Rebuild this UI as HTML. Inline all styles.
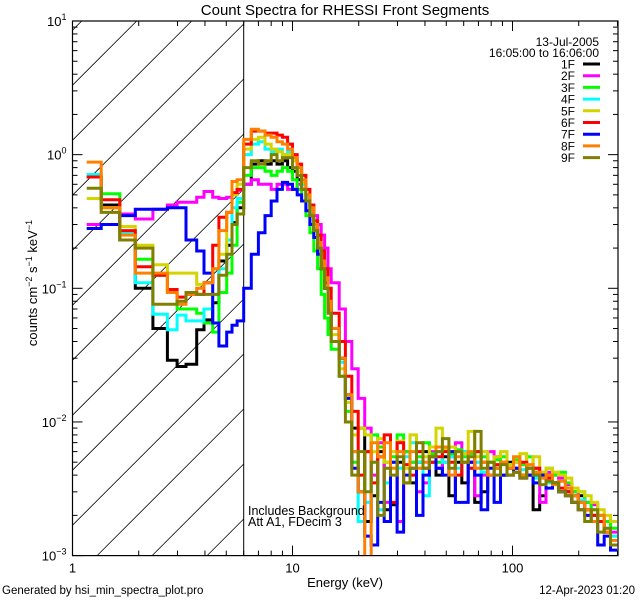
<!DOCTYPE html>
<html><head><meta charset="utf-8">
<style>
html,body{margin:0;padding:0;background:#fff;width:640px;height:600px;overflow:hidden;}
svg{display:block;font-family:"Liberation Sans",sans-serif;overflow:hidden;}
</style></head>
<body>
<svg id="chart" width="640" height="600" viewBox="0 0 640 600" xmlns="http://www.w3.org/2000/svg">
<rect x="0" y="0" width="640" height="600" fill="#fff"/>
<text x="345" y="15" font-size="15" text-anchor="middle">Count Spectra for RHESSI Front Segments</text>
<g id="hatch"></g>
<g id="series"></g>
<g id="axes"></g>
<text x="345" y="587" font-size="13" text-anchor="middle">Energy (keV)</text>
<text transform="translate(37,283) rotate(-90)" font-size="13" text-anchor="middle">counts cm<tspan font-size="9" dy="-5">−2</tspan><tspan dy="5"> s</tspan><tspan font-size="9" dy="-5">−1</tspan><tspan dy="5"> keV</tspan><tspan font-size="9" dy="-5">−1</tspan></text>
<text x="248" y="515" font-size="12.5">Includes Background</text>
<text x="248" y="526" font-size="12.5">Att A1, FDecim  3</text>
<text x="2" y="594" font-size="11.5">Generated by hsi_min_spectra_plot.pro</text>
<text x="635" y="594" font-size="11.5" text-anchor="end">12-Apr-2023 01:20</text>
<text x="599" y="46" font-size="12" text-anchor="end">13-Jul-2005</text>
<text x="599" y="57" font-size="12" text-anchor="end">16:05:00 to 16:06:00</text>
<g id="legend"></g>
</svg>
<script>
const edgesLow = [1.16,1.35,1.64,1.93,2.32,2.7,2.99,3.28,3.67,3.96,4.34,4.63,5.02,5.31,5.6,6.0];
const edgesMid = [6.5,7.0,7.5,8.0,8.5,9.0,9.5,10.0,10.5,11.0,11.5,12.0,12.5,13.0,13.5,14.0,14.5,15.0];
const edgesHigh = [16.3,17.4,18.6,19.9,21.3,22.8,24.4,26.1,27.9,29.9,32,34.2,36.6,39.2,41.9,44.9,48,51.4,55,58.8,62.9,67.3,72,77.1,82.5,88.2,94.4,101,108,116,124,133,142,152,162,174,186,199,213,228,244,261,279,299,309];
const seriesNames = ["1F","2F","3F","4F","5F","6F","7F","8F","9F"];
const seriesColors = ["#000000","#ff00ff","#00ff00","#00ffff","#d4d400","#ff0000","#0000ff","#ff8000","#808000"];
const yTickLabels = ["1","0","−1","−2","−3"];
const xTickLabels = ["1","10","100"];

const s1Low=[0.68,0.42,0.23,0.10,0.05,0.029,0.026,0.027,0.049,0.058,0.078,0.16,0.21,0.31,0.40];
const s1Mid=[0.6,0.85,0.9,0.85,0.9,0.85,0.9,0.8,0.75,0.65,0.55,0.45,0.35,0.27,0.2,0.15,0.11,0.08];
const s1High=[0.05,0.03,0.016,0.009,0.009,0.0018,0.0028,0.006,0.0022,0.0024,0.005,0.006,0.0035,0.005,0.006,0.005,0.004,0.0055,0.0028,0.005,0.0035,0.005,0.0025,0.003,0.005,0.0045,0.004,0.005,0.0045,0.004,0.0045,0.0022,0.0028,0.004,0.0035,0.003,0.003,0.0025,0.0028,0.0022,0.002,0.0018,0.0015,0.0012];
const s2Low=[0.30,0.30,0.36,0.33,0.39,0.42,0.44,0.44,0.48,0.53,0.48,0.47,0.48,0.5,0.54];
const s2Mid=[0.6,0.65,0.6,0.6,0.55,0.6,0.6,0.55,0.55,0.6,0.55,0.5,0.42,0.35,0.3,0.25,0.2,0.14];
const s2High=[0.11,0.07,0.04,0.025,0.015,0.009,0.004,0.007,0.0025,0.005,0.0018,0.006,0.005,0.003,0.0035,0.006,0.0045,0.005,0.0055,0.007,0.006,0.005,0.0028,0.004,0.006,0.0055,0.004,0.0045,0.005,0.0048,0.004,0.0045,0.0025,0.0042,0.004,0.0038,0.0034,0.003,0.0026,0.0025,0.0024,0.002,0.0018,0.0015];
const s3Low=[0.68,0.51,0.26,0.165,0.125,0.093,0.07,0.07,0.065,0.055,0.047,0.093,0.13,0.21,0.44];
const s3Mid=[0.7,0.8,0.8,0.75,0.7,0.75,0.8,0.75,0.65,0.55,0.45,0.35,0.26,0.19,0.14,0.09,0.06,0.045];
const s3High=[0.035,0.022,0.012,0.005,0.003,0.006,0.008,0.0065,0.005,0.0055,0.008,0.006,0.005,0.0055,0.007,0.0058,0.005,0.0065,0.0058,0.0062,0.0055,0.0058,0.006,0.0055,0.005,0.0052,0.0055,0.0045,0.0052,0.0048,0.0055,0.0042,0.004,0.0045,0.004,0.0042,0.0035,0.003,0.003,0.0025,0.0022,0.002,0.0018,0.0016];
const s4Low=[0.71,0.40,0.26,0.11,0.064,0.049,0.063,0.057,0.057,0.07,0.09,0.14,0.23,0.40,0.47];
const s4Mid=[1.0,1.2,1.25,1.1,1.05,1.1,1.0,1.05,0.9,0.75,0.6,0.48,0.36,0.27,0.2,0.15,0.1,0.07];
const s4High=[0.05,0.028,0.014,0.006,0.0018,0.0025,0.005,0.0022,0.0035,0.005,0.0045,0.0055,0.007,0.005,0.0028,0.005,0.006,0.005,0.0055,0.0045,0.006,0.0045,0.005,0.0042,0.005,0.0045,0.004,0.0048,0.0042,0.0044,0.004,0.0038,0.0042,0.0035,0.0034,0.003,0.0032,0.0028,0.0026,0.0022,0.002,0.0018,0.0016,0.0014];
const s5Low=[0.47,0.40,0.29,0.21,0.15,0.13,0.13,0.13,0.107,0.11,0.14,0.18,0.37,0.5,0.6];
const s5Mid=[1.1,1.3,1.35,1.2,1.1,1.05,1.0,1.0,0.9,0.75,0.62,0.5,0.38,0.28,0.2,0.14,0.1,0.07];
const s5High=[0.045,0.025,0.014,0.008,0.009,0.008,0.006,0.0075,0.005,0.006,0.0072,0.0045,0.008,0.006,0.0055,0.0065,0.009,0.0062,0.0065,0.006,0.0058,0.0085,0.0055,0.006,0.005,0.0055,0.006,0.0048,0.005,0.0058,0.0045,0.0055,0.0042,0.0045,0.0042,0.004,0.0038,0.0032,0.003,0.0028,0.0025,0.0022,0.002,0.0018];
const s6Low=[0.68,0.46,0.27,0.145,0.125,0.098,0.086,0.09,0.09,0.11,0.21,0.34,0.37,0.52,0.55];
const s6Mid=[1.2,1.5,1.5,1.45,1.45,1.4,1.35,1.2,1.0,0.85,0.7,0.55,0.42,0.32,0.25,0.19,0.14,0.1];
const s6High=[0.065,0.04,0.022,0.012,0.004,0.006,0.0035,0.0055,0.008,0.0025,0.007,0.0048,0.004,0.006,0.0045,0.005,0.0055,0.006,0.005,0.004,0.005,0.0045,0.006,0.005,0.004,0.0048,0.005,0.0045,0.0042,0.005,0.004,0.0045,0.004,0.0038,0.0035,0.0032,0.003,0.0028,0.0025,0.0022,0.002,0.0018,0.0015,0.0012];
const s7Low=[0.28,0.30,0.35,0.39,0.39,0.40,0.40,0.23,0.19,0.13,0.055,0.037,0.047,0.053,0.057];
const s7Mid=[0.1,0.18,0.26,0.35,0.45,0.55,0.62,0.6,0.55,0.5,0.45,0.38,0.3,0.24,0.18,0.14,0.1,0.07];
const s7High=[0.05,0.03,0.015,0.0045,0.003,0.0014,0.0012,0.0025,0.0018,0.005,0.0015,0.004,0.0045,0.002,0.004,0.0055,0.0045,0.004,0.006,0.0025,0.0025,0.005,0.004,0.0022,0.0045,0.0025,0.004,0.004,0.0045,0.0038,0.004,0.0035,0.004,0.0032,0.0035,0.003,0.0028,0.0025,0.0022,0.002,0.0018,0.0012,0.0014,0.0011];
const s8Low=[0.88,0.40,0.25,0.13,0.13,0.093,0.076,0.09,0.1,0.11,0.14,0.27,0.37,0.63,0.65];
const s8Mid=[1.3,1.55,1.5,1.4,1.35,1.25,1.2,1.1,0.95,0.8,0.65,0.5,0.4,0.3,0.22,0.16,0.12,0.08];
const s8High=[0.05,0.03,0.016,0.006,0.003,0.0008,0.007,0.0055,0.007,0.0045,0.006,0.0035,0.006,0.0045,0.005,0.0055,0.0065,0.0065,0.004,0.0055,0.005,0.006,0.0045,0.005,0.004,0.0045,0.005,0.0045,0.0055,0.004,0.0048,0.0042,0.0038,0.004,0.0034,0.0036,0.0032,0.0028,0.0025,0.0022,0.0018,0.002,0.0015,0.0013];
const s9Low=[0.56,0.37,0.23,0.20,0.076,0.076,0.08,0.093,0.09,0.09,0.09,0.125,0.18,0.30,0.36];
const s9Mid=[0.8,0.9,0.85,0.9,1.0,0.9,0.95,0.95,0.8,0.7,0.55,0.45,0.35,0.27,0.2,0.14,0.1,0.065];
const s9High=[0.04,0.022,0.01,0.004,0.006,0.003,0.005,0.002,0.0045,0.004,0.0055,0.0035,0.0045,0.007,0.0045,0.0055,0.006,0.0075,0.0045,0.006,0.005,0.0055,0.0085,0.0045,0.005,0.004,0.0048,0.004,0.0042,0.0038,0.0045,0.004,0.0034,0.0036,0.0035,0.003,0.0028,0.0025,0.0022,0.0018,0.0022,0.0015,0.0016,0.0012];

const NS="http://www.w3.org/2000/svg";
const L=72.5,R=618,T=21,B=555.6;
const xmin=1,xmax=Math.pow(10,(R-L)/220);
const ymin=1e-3,ymax=10;
function xs(e){return L+(Math.log10(e)-Math.log10(xmin))/(Math.log10(xmax)-Math.log10(xmin))*(R-L);}
function ys(v){return B-(Math.log10(v)-Math.log10(ymin))/(Math.log10(ymax)-Math.log10(ymin))*(B-T);}
function mk(tag,attrs,parent){const el=document.createElementNS(NS,tag);for(const k in attrs)el.setAttribute(k,attrs[k]);parent.appendChild(el);return el;}

const svg=document.getElementById('chart');
const defs=mk('defs',{},svg);
const cp=mk('clipPath',{id:'plotclip'},defs);
mk('rect',{x:L,y:T,width:R-L,height:B-T},cp);

const hatch=document.getElementById('hatch');
const xv=xs(6);
// hatch lines y = c - x, clipped analytically to [L,xv] x [T,B]
for(let c=157.7-55*3;c<B+xv;c+=55){
  let xa=Math.max(L,c-B), xb=Math.min(xv,c-T);
  if(xb<=xa) continue;
  const ln=mk('line',{x1:xa,y1:c-xa,x2:xb,y2:c-xb,stroke:'#000','stroke-width':0.8},hatch);
  
  
}
const vl=mk('line',{x1:xv,y1:T,x2:xv,y2:B,stroke:'#000','stroke-width':1},hatch);



const edges=edgesLow.concat(edgesMid,edgesHigh);
const allSeries=[
 s1Low.concat(s1Mid,s1High),s2Low.concat(s2Mid,s2High),s3Low.concat(s3Mid,s3High),
 s4Low.concat(s4Mid,s4High),s5Low.concat(s5Mid,s5High),s6Low.concat(s6Mid,s6High),
 s7Low.concat(s7Mid,s7High),s8Low.concat(s8Mid,s8High),s9Low.concat(s9Mid,s9High)];
const sg=document.getElementById('series');
sg.setAttribute('clip-path','url(#plotclip)');
allSeries.forEach((vals,si)=>{
  const n=Math.min(vals.length,edges.length-1);
  let d='';
  for(let i=0;i<n;i++){
    const x0=xs(edges[i]),x1=Math.min(xs(edges[i+1]),R),y=Math.min(ys(vals[i]),B+1);
    d+=(i===0?'M':'L')+x0.toFixed(1)+','+y.toFixed(1)+'L'+x1.toFixed(1)+','+y.toFixed(1);
  }
  const p=mk('path',{d:d,fill:'none',stroke:seriesColors[si],'stroke-width':3,'stroke-linejoin':'miter'},sg);
  
  
});

const ax=document.getElementById('axes');
const fr=mk('rect',{x:L,y:T,width:R-L,height:B-T,fill:'none',stroke:'#000','stroke-width':1.2},ax);


for(let p=-3;p<=1;p++){
  const y=ys(Math.pow(10,p));
  mk('line',{x1:L,y1:y,x2:L+10,y2:y,stroke:'#000'},ax);
  mk('line',{x1:R,y1:y,x2:R-10,y2:y,stroke:'#000'},ax);
  const t=mk('text',{x:L-6,y:y+5,'font-size':13,'text-anchor':'end'},ax);
  
  
  t.innerHTML='10<tspan font-size="9" dy="-6">'+yTickLabels[1-p]+'</tspan>';
  if(p<1){for(let m=2;m<=9;m++){const ym=ys(m*Math.pow(10,p));
    mk('line',{x1:L,y1:ym,x2:L+5,y2:ym,stroke:'#000'},ax);
    mk('line',{x1:R,y1:ym,x2:R-5,y2:ym,stroke:'#000'},ax);}}
}
for(let p=0;p<=2;p++){
  const x=xs(Math.pow(10,p));
  mk('line',{x1:x,y1:B,x2:x,y2:B-10,stroke:'#000'},ax);
  mk('line',{x1:x,y1:T,x2:x,y2:T+10,stroke:'#000'},ax);
  const t=mk('text',{x:x,y:B+17,'font-size':13,'text-anchor':'middle'},ax);
  
  
  t.textContent=xTickLabels[p];
  for(let m=2;m<=9;m++){const e=m*Math.pow(10,p);if(e>xmax)break;const xm=xs(e);
    mk('line',{x1:xm,y1:B,x2:xm,y2:B-5,stroke:'#000'},ax);
    mk('line',{x1:xm,y1:T,x2:xm,y2:T+5,stroke:'#000'},ax);}
}
const lg=document.getElementById('legend');
seriesNames.forEach((nm,i)=>{
  const y=64+i*11.7;
  const t=mk('text',{x:575,y:y+4.5,'font-size':12,'text-anchor':'end'},lg);
  
  
  t.textContent=nm;
  const l=mk('line',{x1:583,y1:y,x2:600,y2:y,stroke:seriesColors[i],'stroke-width':3},lg);
  
  
});
</script>
</body></html>
